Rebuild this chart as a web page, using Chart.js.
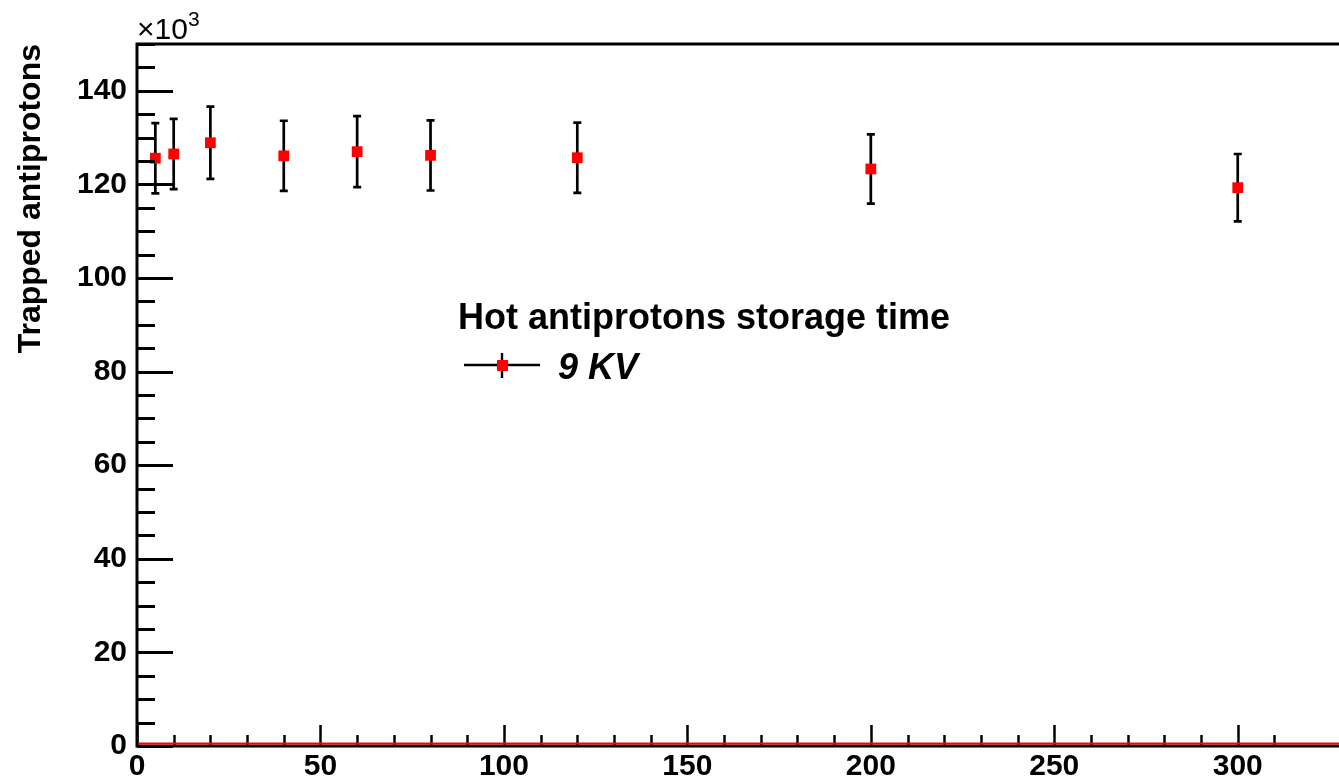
<!DOCTYPE html>
<html>
<head>
<meta charset="utf-8">
<script src="https://cdn.jsdelivr.net/npm/chart.js@4"></script>
<style>
  html, body { margin: 0; padding: 0; background: #fff; overflow: hidden; }
  #wrap { width: 1339px; height: 784px; }
</style>
</head>
<body>
<div id="wrap"><canvas id="storageChart" width="1339" height="784"></canvas></div>
<script>
// storage time (s) and trapped antiprotons (x10^3)
const storageTimes = [5, 10, 20, 40, 60, 80, 120, 200, 300];
const trappedCounts = [125.6, 126.5, 128.9, 126.1, 127.0, 126.2, 125.7, 123.3, 119.3];
const trappedErrors = [7.5, 7.5, 7.7, 7.5, 7.6, 7.5, 7.5, 7.4, 7.2];
const xMajorTicks = [0, 50, 100, 150, 200, 250, 300];
const yMajorTicks = [0, 20, 40, 60, 80, 100, 120, 140];
const legendTitle = 'Hot antiprotons storage time';
const seriesLabel = '9 KV';

const FONT = '"Liberation Sans", Arial, Helvetica, sans-serif';

// error bars, axis frame, inward ticks, legend
const rootStyle = {
    id: 'rootStyle',
    beforeDatasetsDraw(chart) {
        const ctx = chart.ctx;
        const x = chart.scales.x, y = chart.scales.y;
        ctx.save();
        ctx.strokeStyle = '#000';
        ctx.lineWidth = 2.7;
        storageTimes.forEach((t, i) => {
            const px = x.getPixelForValue(t);
            const top = y.getPixelForValue(trappedCounts[i] + trappedErrors[i]);
            const bot = y.getPixelForValue(trappedCounts[i] - trappedErrors[i]);
            ctx.beginPath();
            ctx.moveTo(px, top); ctx.lineTo(px, bot);
            ctx.moveTo(px - 4, top); ctx.lineTo(px + 4, top);
            ctx.moveTo(px - 4, bot); ctx.lineTo(px + 4, bot);
            ctx.stroke();
        });
        ctx.restore();
    },
    afterDatasetsDraw(chart) {
        const ctx = chart.ctx;
        const a = chart.chartArea;
        const x = chart.scales.x, y = chart.scales.y;
        ctx.save();
        ctx.strokeStyle = '#000';

        // inward ticks
        ctx.lineWidth = 3;
        y.ticks.forEach(t => {
            if (t.value % 5 !== 0) return;
            const py = Math.round(y.getPixelForValue(t.value)) + 0.5;
            const len = t.value % 20 === 0 ? 36 : 18;
            ctx.beginPath();
            ctx.moveTo(a.left, py); ctx.lineTo(a.left + len, py);
            ctx.stroke();
        });
        ctx.lineWidth = 2.5;
        x.ticks.forEach(t => {
            if (t.value % 10 !== 0) return;
            const px = Math.round(x.getPixelForValue(t.value)) + 0.5;
            const len = t.value % 50 === 0 ? 21 : 11;
            ctx.beginPath();
            ctx.moveTo(px, a.bottom); ctx.lineTo(px, a.bottom - len);
            ctx.stroke();
        });

        // frame
        const y0 = y.getPixelForValue(0);
        ctx.lineWidth = 3;
        ctx.beginPath();
        ctx.moveTo(a.right, a.top); ctx.lineTo(a.left, a.top);
        ctx.lineTo(a.left, y0); ctx.lineTo(a.right, y0);
        ctx.stroke();

        // red line at zero
        ctx.strokeStyle = '#ff0000';
        ctx.lineWidth = 2;
        ctx.beginPath();
        ctx.moveTo(a.left + 1.5, y0 - 2.6); ctx.lineTo(a.right, y0 - 2.6);
        ctx.stroke();

        // x10^3
        ctx.fillStyle = '#000';
        ctx.strokeStyle = '#000';
        ctx.textBaseline = 'alphabetic';
        ctx.textAlign = 'left';
        ctx.font = '30px ' + FONT;
        ctx.fillText('\u00d710', a.left, 39);
        ctx.font = '21px ' + FONT;
        ctx.fillText('3', a.left + 51, 26);

        // legend
        ctx.font = 'bold 36px ' + FONT;
        ctx.fillText(legendTitle, 458, 329);
        ctx.lineWidth = 2.4;
        ctx.beginPath();
        ctx.moveTo(464, 365); ctx.lineTo(540, 365);
        ctx.moveTo(502, 353); ctx.lineTo(502, 378);
        ctx.stroke();
        ctx.fillStyle = '#ff0000';
        ctx.fillRect(497, 360, 11, 11);
        ctx.fillStyle = '#000';
        ctx.font = 'italic bold 36px ' + FONT;
        ctx.fillText(seriesLabel, 558, 379);
        ctx.restore();
    }
};

const ctx = document.getElementById('storageChart').getContext('2d');
new Chart(ctx, {
    type: 'scatter',
    data: {
        datasets: [{
            label: seriesLabel,
            data: storageTimes.map((t, i) => ({ x: t, y: trappedCounts[i] })),
            pointStyle: 'rect',
            pointRadius: 7.6,
            pointBorderWidth: 0,
            backgroundColor: '#ff0000',
            borderColor: '#ff0000'
        }]
    },
    options: {
        responsive: false,
        animation: false,
        layout: { autoPadding: false, padding: { top: 44, right: 0, left: 0, bottom: 0 } },
        plugins: { legend: { display: false }, tooltip: { enabled: false } },
        scales: {
            x: {
                type: 'linear',
                min: 0,
                max: 327.6,
                afterFit: s => { s.height = 38; s.paddingLeft = 0; s.paddingRight = 0; },
                grid: { display: false, drawTicks: false },
                border: { display: false },
                ticks: {
                    stepSize: 10,
                    autoSkip: false,
                    maxRotation: 0,
                    padding: 3,
                    color: '#000',
                    font: { family: FONT, size: 30, weight: 'bold' },
                    callback: v => xMajorTicks.includes(v) ? String(v) : ''
                }
            },
            y: {
                type: 'linear',
                min: 0,
                max: 150,
                afterFit: s => { s.width = 137; s.paddingTop = 0; s.paddingBottom = 0; },
                grid: { display: false, drawTicks: false },
                border: { display: false },
                title: {
                    display: true,
                    text: 'Trapped antiprotons',
                    align: 'end',
                    color: '#000',
                    padding: { top: 12, bottom: 0 },
                    font: { family: FONT, size: 32, weight: 'bold' }
                },
                ticks: {
                    stepSize: 5,
                    autoSkip: false,
                    padding: 10,
                    color: '#000',
                    font: { family: FONT, size: 30, weight: 'bold' },
                    callback: v => yMajorTicks.includes(v) ? String(v) : ''
                }
            }
        }
    },
    plugins: [rootStyle]
});
</script>
</body>
</html>
